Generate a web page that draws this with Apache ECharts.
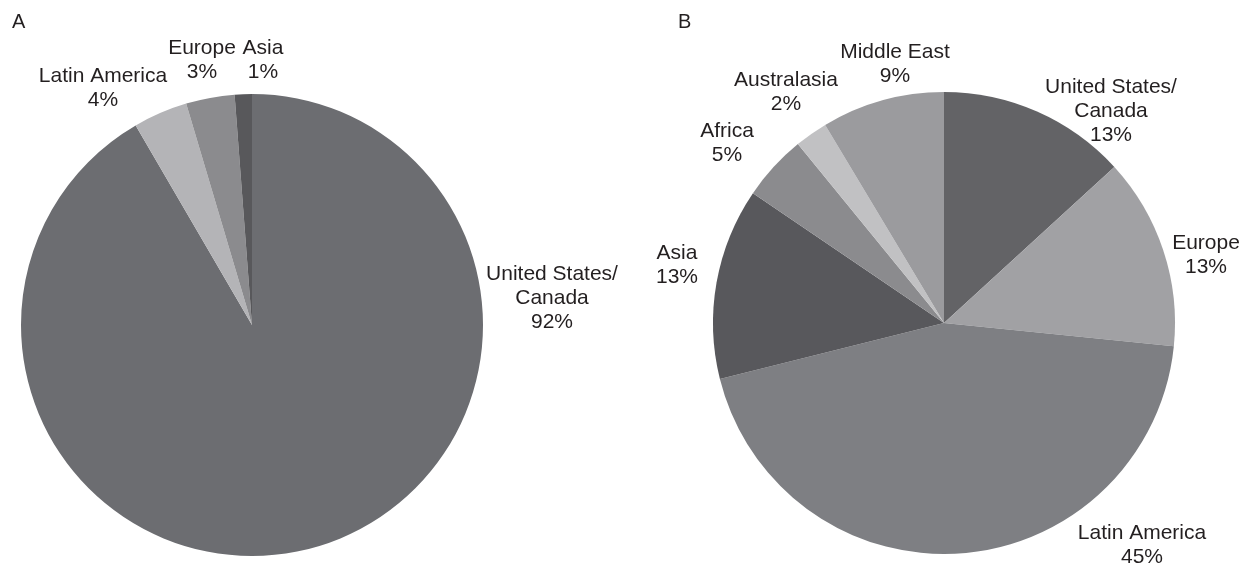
<!DOCTYPE html>
<html>
<head>
<meta charset="utf-8">
<script src="https://cdn.jsdelivr.net/npm/echarts@6/dist/echarts.min.js"></script>
<style>
html,body{margin:0;padding:0;background:#fff;}
#chart{width:1243px;height:565px;}
</style>
</head>
<body>
<div id="chart"></div>
<script>
// Panel A
const namesA = ['United States/\nCanada', 'Latin America', 'Europe', 'Asia'];
const valuesA = [91.6, 3.8, 3.4, 1.2];
const colorsA = ['#6c6d71', '#b4b4b7', '#8b8b8e', '#58585b'];
// Panel B
const namesB = ['United States/\nCanada', 'Europe', 'Latin America', 'Asia', 'Africa', 'Australasia', 'Middle East'];
const valuesB = [13.2, 13.4, 44.5, 13.4, 4.6, 2.3, 8.6];
const colorsB = ['#636366', '#a1a1a4', '#7e7f83', '#58585c', '#8b8b8e', '#c1c1c3', '#9b9b9e'];

// label centres (layout only)
const labelPosA = [[552, 298], [103, 88], [202, 60], [263, 60]];
const labelPosB = [[1111, 111], [1206, 255], [1142, 545], [677, 265], [727, 143], [786, 92], [895, 64]];

function mk(names, values, colors) {
  return names.map((n, i) => ({ name: n, value: values[i], itemStyle: { color: colors[i] } }));
}

const labelStyle = {
  show: true,
  position: 'outside',
  formatter: '{b}\n{d}%',
  fontFamily: 'Liberation Sans, Arial, sans-serif',
  fontSize: 21,
  lineHeight: 24,
  color: '#231f20',
  align: 'center'
};

function layoutFrom(pos) {
  return function (p) {
    const q = pos[p.dataIndex];
    return { x: q[0], y: q[1], align: 'center', verticalAlign: 'middle' };
  };
}

const chart = echarts.init(document.getElementById('chart'), null, { renderer: 'canvas' });
chart.setOption({
  animation: false,
  backgroundColor: '#fff',
  title: [
    { text: 'A', left: 12, top: 12, padding: 0, textStyle: { fontSize: 20, fontWeight: 'normal', color: '#231f20', fontFamily: 'Liberation Sans, Arial, sans-serif' } },
    { text: 'B', left: 678, top: 12, padding: 0, textStyle: { fontSize: 20, fontWeight: 'normal', color: '#231f20', fontFamily: 'Liberation Sans, Arial, sans-serif' } }
  ],
  series: [
    {
      type: 'pie',
      center: [252, 325],
      radius: 231,
      startAngle: 90,
      clockwise: true,
      percentPrecision: 0,
      avoidLabelOverlap: false,
      emphasis: { disabled: true },
      label: labelStyle,
      labelLine: { show: false },
      labelLayout: layoutFrom(labelPosA),
      data: mk(namesA, valuesA, colorsA)
    },
    {
      type: 'pie',
      center: [944, 323],
      radius: 231,
      startAngle: 90,
      clockwise: true,
      percentPrecision: 0,
      avoidLabelOverlap: false,
      emphasis: { disabled: true },
      label: labelStyle,
      labelLine: { show: false },
      labelLayout: layoutFrom(labelPosB),
      data: mk(namesB, valuesB, colorsB)
    }
  ]
});
</script>
</body>
</html>
